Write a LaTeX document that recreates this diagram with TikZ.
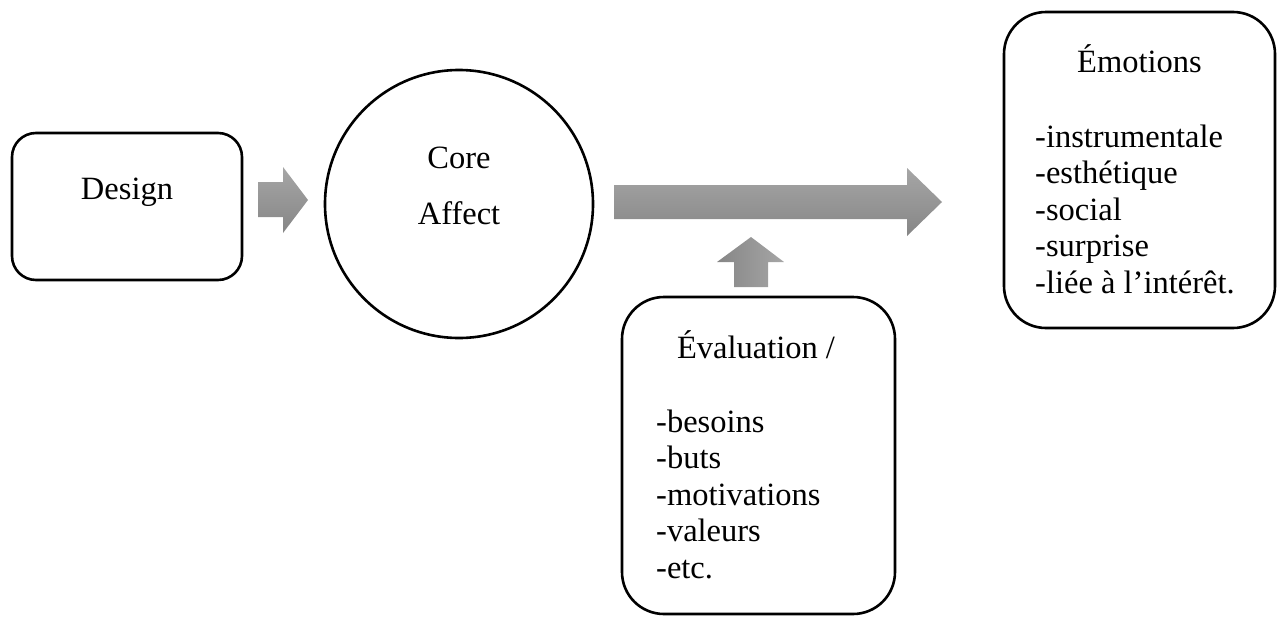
\documentclass[tikz,border=0pt]{standalone}
\usepackage{fontspec}
\setmainfont{Liberation Serif}
\definecolor{arrtop}{RGB}{166,166,166}
\definecolor{arrbot}{RGB}{134,134,134}
\begin{document}
\begin{tikzpicture}[x=1pt,y=-1pt,
  box/.style={draw=black, line width=2.6pt, inner sep=0pt, fill=white},
  lbl/.style={font=\fontsize{32.5}{36.5}\selectfont, inner sep=0pt},
  harrow/.style={draw=none, top color=arrtop, bottom color=arrbot},
  varrow/.style={draw=none, left color=arrbot, right color=arrtop}]
\useasboundingbox (0,0) rectangle (1277,616);
% boxes
\node[box, rounded corners=24pt, minimum width=230pt, minimum height=147pt] (design) at (127,206.5) {};
\node[box, circle, minimum size=268pt] (core) at (459,204) {};
\node[box, rounded corners=42pt, minimum width=271pt, minimum height=316pt] (emo) at (1139.5,170) {};
\node[box, rounded corners=42pt, minimum width=273pt, minimum height=317pt] (eval) at (758.5,455.5) {};
% block arrows
\path[harrow] (258,182) -- (283,182) -- (283,167) -- (308,200) -- (283,233) -- (283,217) -- (258,217) -- cycle;
\path[harrow] (614,185) -- (907,185) -- (907,168) -- (942,202) -- (907,236) -- (907,219) -- (614,219) -- cycle;
\path[varrow] (734,287) -- (734,262) -- (717,262) -- (751,237) -- (784,262) -- (768,262) -- (768,287) -- cycle;
% texts
\node[lbl, anchor=base] (tdesign) at (127,199) {Design};
\node[lbl, anchor=base] (tcore) at (459,168) {Core};
\node[lbl, anchor=base] (taffect) at (459,224) {Affect};
\node[lbl, anchor=base] (temo) at (1139.5,72) {Émotions};
\node[lbl, anchor=base west] (e1) at (1035,147) {-instrumentale};
\node[lbl, anchor=base west] (e2) at (1035,183.5) {-esthétique};
\node[lbl, anchor=base west] (e3) at (1035,220) {-social};
\node[lbl, anchor=base west] (e4) at (1035,256.5) {-surprise};
\node[lbl, anchor=base west] (e5) at (1035,293) {-liée à l’intérêt.};
\node[lbl, anchor=base] (teval) at (756,358) {Évaluation /};
\node[lbl, anchor=base west] (v1) at (656,432) {-besoins};
\node[lbl, anchor=base west] (v2) at (656,468.5) {-buts};
\node[lbl, anchor=base west] (v3) at (656,505) {-motivations};
\node[lbl, anchor=base west] (v4) at (656,541.5) {-valeurs};
\node[lbl, anchor=base west] (v5) at (656,578) {-etc.};
\end{tikzpicture}
\end{document}
